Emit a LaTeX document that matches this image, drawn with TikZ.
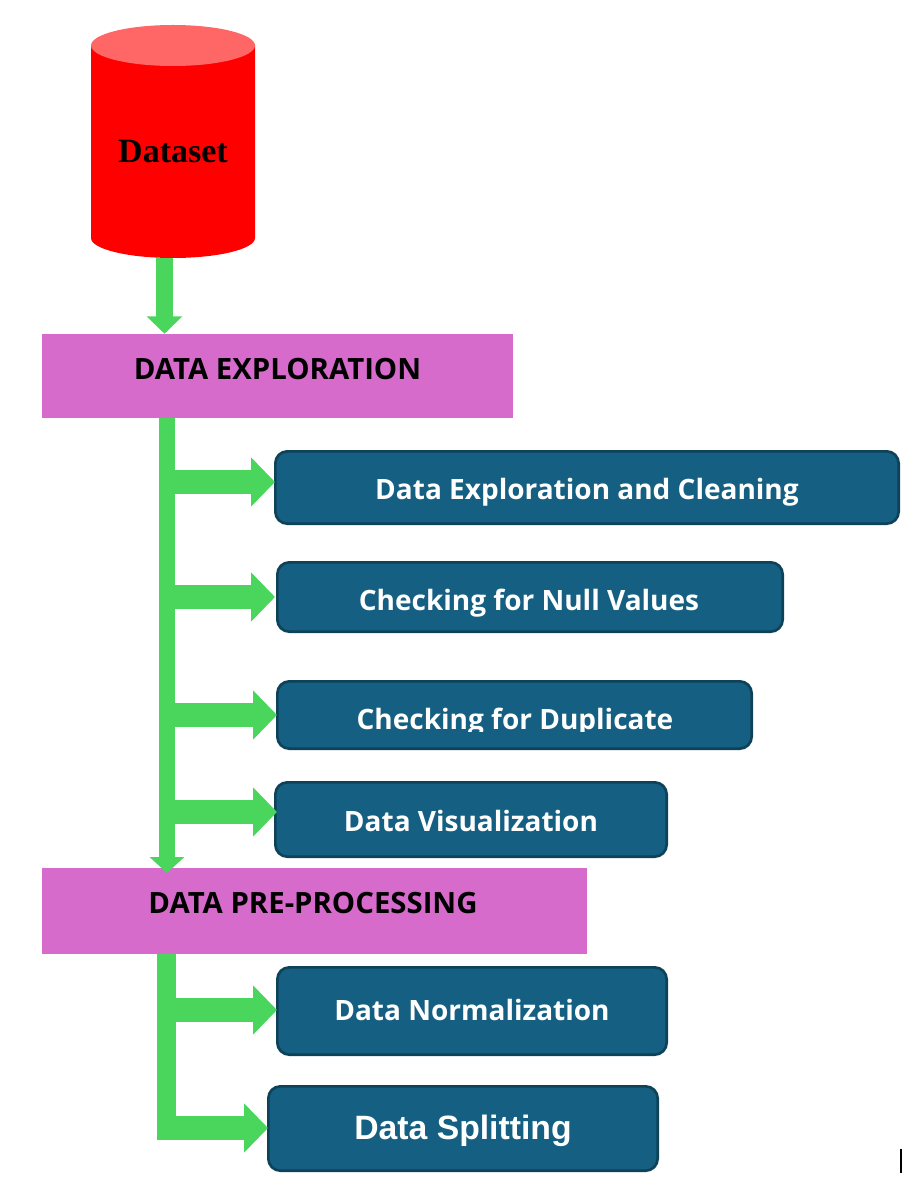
\documentclass[tikz,border=0pt]{standalone}
\usepackage{fontspec}
\setmainfont{Open Sans}
\newfontfamily\dataserif{Liberation Serif}
\newfontfamily\datasans{Liberation Sans}
\usetikzlibrary{arrows.meta}
\definecolor{dsred}{HTML}{FF0000}
\definecolor{dstop}{HTML}{FF6666}
\definecolor{phase}{HTML}{D66BCB}
\definecolor{flow}{HTML}{4AD65C}
\definecolor{stepfill}{HTML}{156082}
\definecolor{stepline}{HTML}{0E4258}
\tikzset{
  phasebox/.style = {fill = phase, inner sep = 0pt},
  phasetext/.style = {inner sep = 0pt, font = \bfseries\fontsize{22}{26}\selectfont},
  taskbox/.style = {draw = stepline, fill = stepfill, line width = 2pt, rounded corners = 9pt, inner sep = 0pt},
  tasktext/.style = {text = white, inner sep = 0pt, font = \bfseries\fontsize{21}{26}\selectfont},
  branch/.style = {draw = flow, line width = 18pt, -{Triangle[length = 18pt, width = 36pt]}},
}
\begin{document}
\begin{tikzpicture}[x = 0.75pt, y = -0.75pt]
  \useasboundingbox (0,0) rectangle (907,1180);
  \fill [dsred] (91,45.5) -- (91,238) arc [start angle = 180, end angle = 0, x radius = 82, y radius = 20] -- (255,45.5) -- cycle;
  \fill [dstop] (173,45.5) ellipse [x radius = 82, y radius = 20.5];
  \node [inner sep = 0pt, font = \dataserif\bfseries\fontsize{25.5}{30}\selectfont] (datasetname) at (173,152) {Dataset};
  %
  \node [phasebox, minimum width = 353.25pt, minimum height = 63pt] (explore) at (277.5,376) {};
  \node [phasetext] (exploretext) at (277.5,369) {DATA EXPLORATION};
  \node [phasebox, minimum width = 408.75pt, minimum height = 64.5pt] (prep) at (314.5,911) {};
  \node [phasetext] (preptext) at (313,903) {DATA PRE-PROCESSING};
  %
  \node [taskbox, minimum width = 467.5pt, minimum height = 54.25pt] (clean) at (587,487.5) {};
  \node [tasktext] (cleantext) at (587,492) {Data Exploration and Cleaning};
  \node [taskbox, minimum width = 379pt, minimum height = 52pt] (nulls) at (530,597) {};
  \node [tasktext] (nullstext) at (529,603) {Checking for Null Values};
  \node [taskbox, minimum width = 355.75pt, minimum height = 50.5pt] (dupes) at (514.5,715) {};
  \begin{scope}
    \clip (276,680) rectangle (754,731);
    \node [tasktext] (dupestext) at (515,722.5) {Checking for Duplicate};
  \end{scope}
  \node [taskbox, minimum width = 293.5pt, minimum height = 55.75pt] (visual) at (471,819.5) {};
  \node [tasktext] (visualtext) at (471,820.5) {Data Visualization};
  \node [taskbox, minimum width = 292pt, minimum height = 65.5pt] (norm) at (472,1011) {};
  \node [tasktext] (normtext) at (472,1010) {Data Normalization};
  \node [taskbox, minimum width = 292pt, minimum height = 63.25pt] (split) at (463,1128.5) {};
  \node [tasktext, font = \datasans\bfseries\fontsize{25.3}{30}\selectfont] (splittext) at (463,1131) {Data Splitting};
  %
  \coordinate (feed) at (164.5,258);
  \draw [branch, line width = 13pt, -{Triangle[length = 13pt, width = 26pt]}] (feed) -- (feed |- explore.north);
  \coordinate (upper) at (167,418);
  \draw [branch, line width = 12pt, -{Triangle[length = 12pt, width = 25.5pt]}] (upper) -- (167,873);
  \foreach \ypos/\target/\nudge in {482/clean/1, 597/nulls/-1, 715/dupes/1, 812/visual/3, 1010/norm/1}{
    \coordinate (from) at (167,\ypos);
    \draw [branch] (from) -- ([xshift = \nudge*0.75pt]from -| \target.west);
  }
  \coordinate (lower) at (166.5,954);
  \draw [draw = flow, line width = 14.25pt] (lower) -- (166.5,1140);
  \coordinate (bend) at (157,1128);
  \draw [branch] (bend) -- ([xshift = 0.75pt]bend -| split.west);
  % stray mark at the lower right
  \coordinate (markend) at (901,1149);
  \draw [line width = 1pt] (markend) -- (901,1173);
\end{tikzpicture}
\end{document}
